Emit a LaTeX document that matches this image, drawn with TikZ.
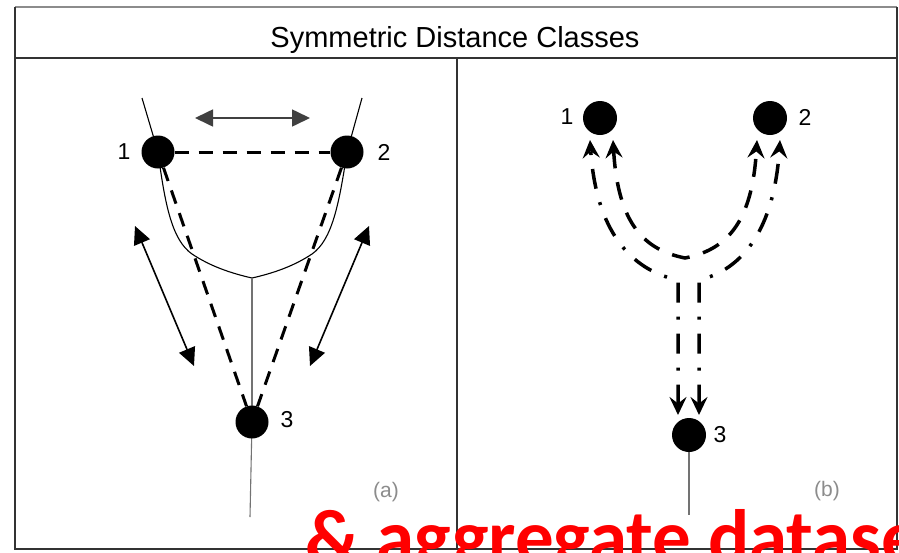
\documentclass[tikz,border=0pt]{standalone}
\usepackage{fontspec}
\setmainfont{Liberation Sans}
\newfontfamily\carl{Carlito}
\usetikzlibrary{arrows.meta}
\begin{document}
\begin{tikzpicture}[x=1pt,y=-1pt,
  dot/.style={circle,fill=black,inner sep=0pt,minimum size=33pt},
  lbl/.style={font=\fontsize{23}{23}\selectfont,inner sep=0pt},
  sublbl/.style={font=\fontsize{21}{21}\selectfont,inner sep=0pt,text=black!45},
  frameline/.style={line width=1.6pt,draw=black!80},
  thinc/.style={line width=1.1pt},
  greyl/.style={line width=1.1pt,draw=black!55},
  dsh/.style={line width=3pt,dash pattern=on 14pt off 10pt},
  bigarrow/.style={line width=1.6pt,{Triangle[length=18pt,width=17pt]}-{Triangle[length=18pt,width=17pt]}},
  ddot/.style={line width=3.5pt,dash pattern=on 20pt off 14pt on 3pt off 14pt,
     {Stealth[length=18pt,width=17pt,inset=6.5pt]}-{Stealth[length=18pt,width=17pt,inset=6.5pt]}},
  ddash/.style={line width=3.5pt,dash pattern=on 18pt off 14pt,
     {Stealth[length=18pt,width=17pt,inset=6.5pt]}-{Stealth[length=18pt,width=17pt,inset=6.5pt]}}
]
\useasboundingbox (0,0) rectangle (899,552);
\clip (0,0) rectangle (899,552);
\fill[white] (0,0) rectangle (899,552);

% frame
\draw[line width=1.2pt,draw=black!45] (15,7) -- (897,7);
\draw[frameline] (15,7) -- (15,549) -- (897,549) -- (897,7);
\draw[frameline] (15,58) -- (897,58);
\draw[frameline] (457,58) -- (457,549);
\node[font=\fontsize{29}{29}\selectfont,anchor=base,inner sep=0pt] (title) at (455,47) {Symmetric Distance Classes};

% ---------- panel (a) ----------
\coordinate (p1) at (158,152);
\coordinate (p2) at (347,152);
\coordinate (p3) at (252,422);
\coordinate (tl) at (142,98);
\coordinate (tr) at (362,98);
\coordinate (vx) at (252,278);
\coordinate (tailA) at (250,517);

\draw[thinc] (tl) -- (p1) .. controls (165,205) and (172,240) .. (192,254)
   .. controls (210,266) and (230,273) .. (vx);
\draw[thinc] (tr) -- (p2) .. controls (339,205) and (332,240) .. (312,254)
   .. controls (294,266) and (274,273) .. (vx);
\draw[greyl] (vx) -- (p3);
\draw[greyl] (p3) -- (tailA);

\node[dot] (a1) at (p1) {};
\node[dot] (a2) at (p2) {};
\node[dot] (a3) at (p3) {};
\node[lbl] (la1) at (124,152) {1};
\node[lbl] (la2) at (384,152) {2};
\node[lbl] (la3) at (287,420) {3};

\draw[dsh] (a1) -- (a2);
\draw[dsh] (a1) -- (a3);
\draw[dsh] (a2) -- (a3);

\coordinate (h1) at (195,118);
\coordinate (h2) at (310,118);
\draw[bigarrow,draw=black!75,fill=black] (h1) -- (h2);
\coordinate (dl1) at (135,226);
\coordinate (dl2) at (194,366);
\draw[bigarrow] (dl1) -- (dl2);
\coordinate (dr1) at (369,226);
\coordinate (dr2) at (310,366);
\draw[bigarrow] (dr1) -- (dr2);

\node[sublbl] (suba) at (386,492) {(a)};

% ---------- panel (b) ----------
\coordinate (q1) at (600,118);
\coordinate (q2) at (770,118);
\coordinate (q3) at (689,435);
\coordinate (tailB) at (689,515);
\draw[greyl] (q3) -- (tailB);
\node[dot,minimum size=34pt] (b1) at (q1) {};
\node[dot,minimum size=34pt] (b2) at (q2) {};
\node[dot,minimum size=34pt] (b3) at (q3) {};
\node[lbl] (lb1) at (567,117) {1};
\node[lbl] (lb2) at (805,117) {2};
\node[lbl] (lb3) at (720,435) {3};

\coordinate (oL) at (590,140);
\coordinate (iL) at (613,140);
\coordinate (iR) at (757,140);
\coordinate (oR) at (780,140);
\coordinate (mid) at (685,258);
\coordinate (kL) at (678,280);
\coordinate (kR) at (699,280);
\coordinate (eL) at (678,415);
\coordinate (eR) at (699,415);

\draw[ddot] (eL) -- (kL) .. controls (630,270) and (596,230) .. (oL);
\draw[ddot] (eR) -- (kR) .. controls (742,270) and (774,230) .. (oR);
\draw[ddash] (iL) .. controls (618,225) and (645,250) .. (mid)
   .. controls (725,250) and (752,225) .. (iR);

\node[sublbl] (subb) at (827,491) {(b)};

% overlay text
\node[anchor=base west,inner sep=0pt,text=red,font=\carl\bfseries\fontsize{77}{77}\selectfont] (wm) at (305,563) {\& aggregate datase};
\end{tikzpicture}
\end{document}
